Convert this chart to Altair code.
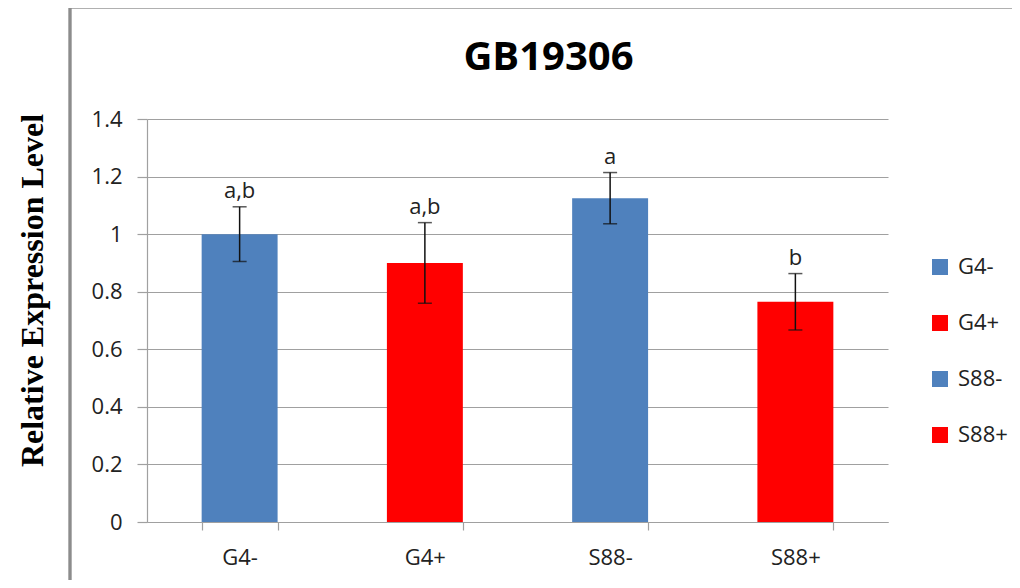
import altair as alt
import pandas as pd

categories = ["G4-", "G4+", "S88-", "S88+"]
means = [1.00, 0.90, 1.125, 0.765]
errors = [0.095, 0.14, 0.089, 0.098]
letters = ["a,b", "a,b", "a", "b"]
bar_colors = ["#4F81BD", "#FF0000", "#4F81BD", "#FF0000"]
y_ticks = [0, 0.2, 0.4, 0.6, 0.8, 1.0, 1.2, 1.4]

df = pd.DataFrame({
    "cat": categories,
    "mean": means,
    "lo": [m - e for m, e in zip(means, errors)],
    "hi": [m + e for m, e in zip(means, errors)],
    "letter": letters,
})

FONT = "Open Sans"
GRAY = "#A0A0A0"

x_enc = alt.X(
    "cat:N",
    sort=categories,
    scale=alt.Scale(paddingInner=0.59, paddingOuter=0.295),
    axis=alt.Axis(
        title=None,
        labelAngle=0,
        tickBand="extent",
        tickSize=8,
        tickColor=GRAY,
        domainColor=GRAY,
        labelPadding=17,
        labelFontSize=22,
        labelFont=FONT,
        labelColor="#222222",
        grid=False,
    ),
)

y_scale = alt.Scale(domain=[0, 1.4], nice=False, zero=True)

bars = alt.Chart(df).mark_bar().encode(
    x=x_enc,
    y=alt.Y(
        "mean:Q",
        scale=y_scale,
        axis=alt.Axis(
            title="Relative Expression Level",
            titleFont="Liberation Serif",
            titleFontSize=32,
            titleFontWeight="bold",
            titleColor="#000000",
            titleAngle=270,
            titleBaseline="alphabetic",
            titleX=-105,
            titleY=171,
            values=y_ticks,
            format="~g",
            tickSize=10,
            tickColor=GRAY,
            domainColor=GRAY,
            gridColor=GRAY,
            labelPadding=15,
            labelFontSize=22,
            labelFont=FONT,
            labelColor="#222222",
        ),
    ),
    color=alt.Color(
        "cat:N",
        sort=categories,
        scale=alt.Scale(domain=categories, range=bar_colors),
        legend=alt.Legend(
            title=None,
            orient="none",
            legendX=782,
            legendY=137,
            symbolType="square",
            symbolSize=256,
            symbolStrokeWidth=0,
            labelFont=FONT,
            labelFontSize=22,
            labelColor="#222222",
            labelOffset=7,
            rowPadding=34,
        ),
    ),
)

rules = alt.Chart(df).mark_rule(color="#111111", strokeWidth=1.5).encode(
    x=alt.X("cat:N", sort=categories),
    y=alt.Y("lo:Q", scale=y_scale),
    y2="hi:Q",
)

caps_hi = alt.Chart(df).mark_tick(color="#111111", size=14, thickness=1.5).encode(
    x=alt.X("cat:N", sort=categories),
    y=alt.Y("hi:Q", scale=y_scale),
)
caps_lo = alt.Chart(df).mark_tick(color="#111111", size=14, thickness=1.5).encode(
    x=alt.X("cat:N", sort=categories),
    y=alt.Y("lo:Q", scale=y_scale),
)

labels = alt.Chart(df).mark_text(
    font=FONT, fontSize=22, color="#222222", baseline="alphabetic", dy=-9
).encode(
    x=alt.X("cat:N", sort=categories),
    y=alt.Y("hi:Q", scale=y_scale),
    text="letter:N",
)

frame = alt.Chart(df).mark_rect(
    fill=None, stroke="#8C8C8C", strokeWidth=2.5
).encode(
    x=alt.value(-77), x2=alt.value(1200),
    y=alt.value(-112), y2=alt.value(700),
)

chart = alt.layer(frame, bars, rules, caps_hi, caps_lo, labels).properties(
    width=741,
    height=403,
    title=alt.Title(
        "GB19306",
        font=FONT,
        fontSize=40,
        fontWeight="bold",
        color="#000000",
        anchor="middle",
        baseline="alphabetic",
        dx=31,
        offset=0,
        dy=104,
    ),
    padding={"left": 139, "top": 111, "right": 124, "bottom": 58},
    autosize=alt.AutoSizeParams(type="none"),
).configure_view(strokeWidth=0).configure_axis(gridWidth=1.2, domainWidth=1.2, tickWidth=1.2)

chart.save("out.html", embed_options={"renderer": "svg", "actions": False})
